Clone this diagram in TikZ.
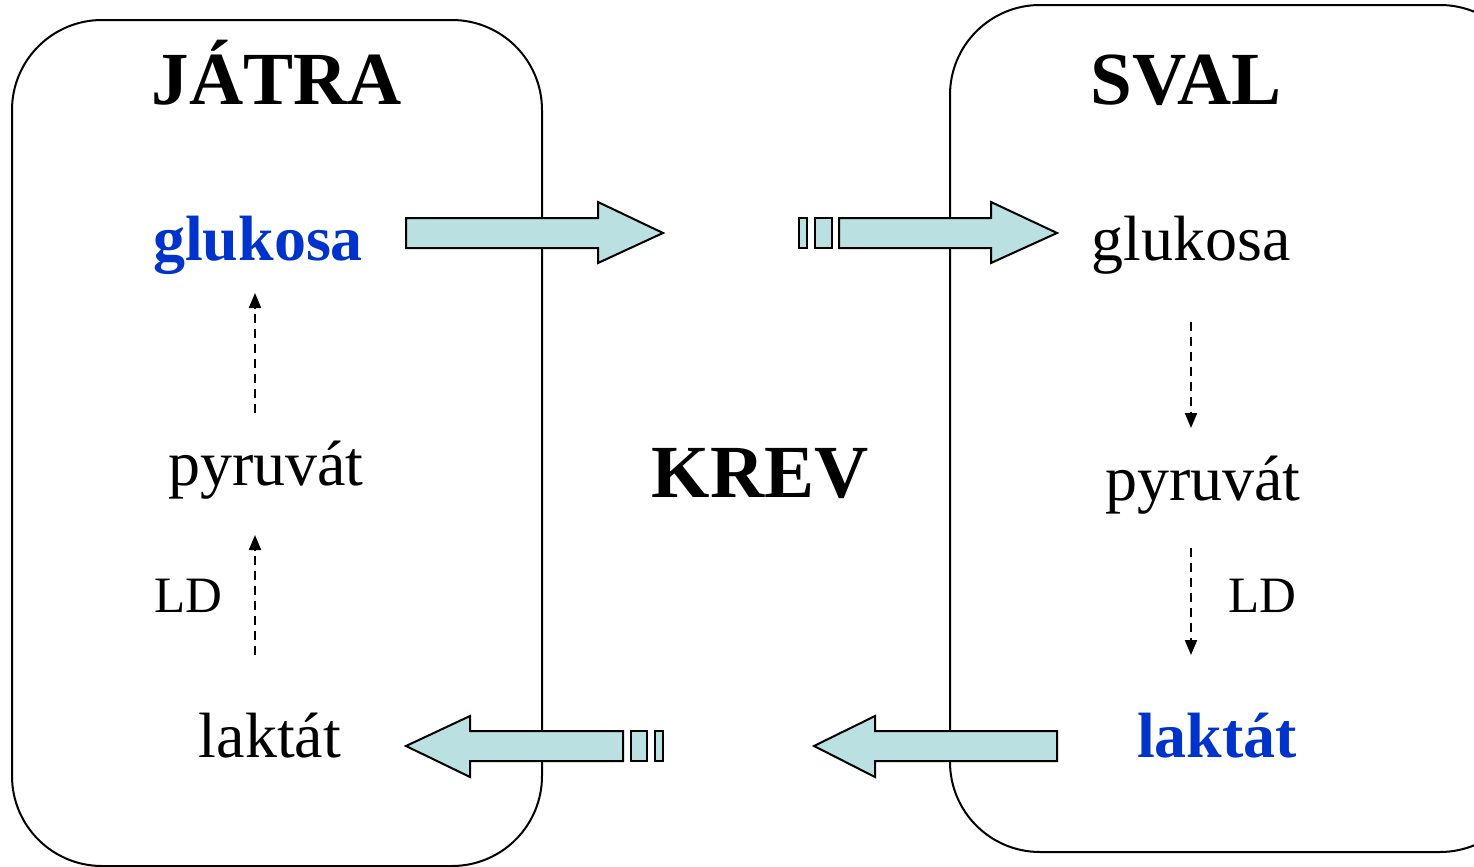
\documentclass[tikz,border=0pt]{standalone}
\usepackage{fontspec}
\setmainfont{Liberation Serif}
\usetikzlibrary{arrows.meta}
\definecolor{arrfill}{RGB}{186,224,226}
\definecolor{myblue}{RGB}{0,51,204}
\begin{document}
\begin{tikzpicture}[x=0.5pt,y=-0.5pt,
  title/.style={font=\fontsize{37.5}{40}\selectfont\bfseries, anchor=base},
  item/.style={font=\fontsize{32}{36}\selectfont, anchor=base},
  bitem/.style={font=\fontsize{32}{36}\selectfont\bfseries, anchor=base, text=myblue},
  ldlab/.style={font=\fontsize{25.5}{30}\selectfont, anchor=base},
  organ/.style={draw=black, line width=1pt, rounded corners=45pt},
  blk/.style={draw=black, fill=arrfill, line width=1pt},
  flow/.style={draw=black, line width=1pt, dash pattern=on 4.5pt off 3pt, -{Triangle[length=7.5pt,width=6pt]}}
]
\useasboundingbox (0,0) rectangle (1474,867);
% organ boxes
\draw[organ] (12,20) rectangle (542,866);
\draw[organ] (950,5) rectangle (1530,852);
% texts
\node[title] (jatra) at (277,104) {JÁTRA};
\node[title] (sval) at (1186,104) {SVAL};
\node[title] (krev) at (760,497) {KREV};
\node[bitem] (glL) at (258,260) {glukosa};
\node[item] (pyL) at (266,485) {pyruvát};
\node[ldlab] (ldL) at (188,612) {LD};
\node[item] (laL) at (270,757) {laktát};
\node[item] (glR) at (1191,260) {glukosa};
\node[item] (pyR) at (1203,500) {pyruvát};
\node[ldlab] (ldR) at (1262,612) {LD};
\node[bitem] (laR) at (1217,757) {laktát};
% dashed flows
\coordinate (a1) at (255,413); \coordinate (a2) at (255,293);
\coordinate (b1) at (255,655); \coordinate (b2) at (255,535);
\coordinate (c1) at (1191,322); \coordinate (c2) at (1191,428);
\coordinate (d1) at (1191,548); \coordinate (d2) at (1191,655);
\draw[flow] (a1) -- (a2);
\draw[flow] (b1) -- (b2);
\draw[flow] (c1) -- (c2);
\draw[flow] (d1) -- (d2);
% block arrows
% top left
\draw[blk] (406,218) -- (598,218) -- (598,202) -- (663,233) -- (598,263) -- (598,248) -- (406,248) -- cycle;
% top right
\draw[blk] (799,218) rectangle (807,248);
\draw[blk] (815,218) rectangle (832,248);
\draw[blk] (839,218) -- (991,218) -- (991,202) -- (1057,233) -- (991,263) -- (991,248) -- (839,248) -- cycle;
% bottom left
\draw[blk] (623,731) -- (470,731) -- (470,716) -- (406,746) -- (470,777) -- (470,761) -- (623,761) -- cycle;
\draw[blk] (631,731) rectangle (647,761);
\draw[blk] (655,731) rectangle (663,761);
% bottom right
\draw[blk] (1057,731) -- (875,731) -- (875,716) -- (814,746) -- (875,777) -- (875,761) -- (1057,761) -- cycle;
\end{tikzpicture}
\end{document}
